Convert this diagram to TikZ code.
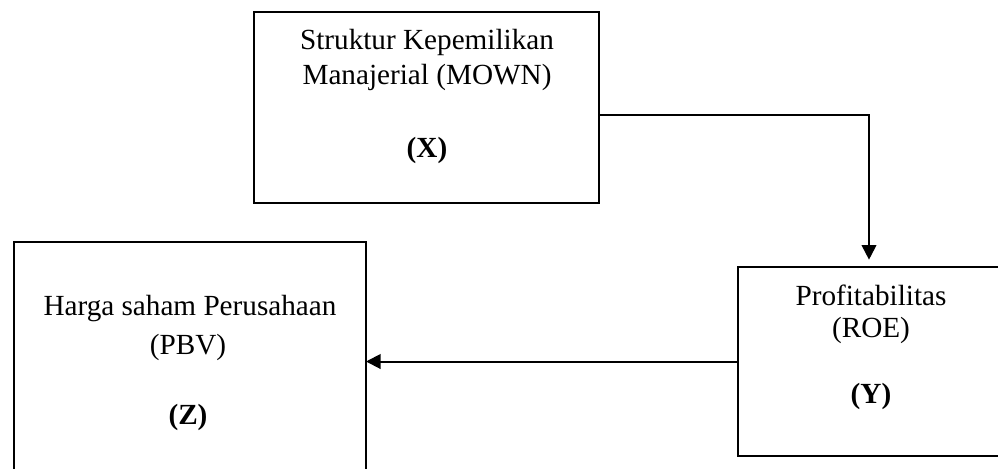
\documentclass[tikz,border=0pt]{standalone}
\usepackage{fontspec}
\setmainfont{Liberation Serif}
\usetikzlibrary{arrows.meta,calc}
\begin{document}
\begin{tikzpicture}[x=0.75pt,y=-0.75pt,
  box/.style={draw,line width=1.3pt,inner sep=0pt,outer sep=0pt},
  txt/.style={font=\fontsize{21.9}{25}\selectfont,anchor=base,inner sep=0pt},
  conn/.style={line width=1.5pt,-{Triangle[length=11pt,width=11pt]}}]
\useasboundingbox (0,0) rectangle (998,468);
\clip (0,0) rectangle (998,468);
% boxes
\node[box,minimum width=258.75pt,minimum height=143.25pt] (mown) at (426.5,107.5) {};
\node[box,minimum width=264pt,minimum height=179.25pt] (pbv) at (190,361.5) {};
\node[box,minimum width=225pt,minimum height=141.75pt] (roe) at (888,361.5) {};
% texts
\node[txt] (mown1) at (427,49) {Struktur Kepemilikan};
\node[txt] (mown2) at (427,84) {Manajerial (MOWN)};
\node[txt] (mownx) at (427,157) {\textbf{(X)}};
\node[txt] (pbv1) at (190,315) {Harga saham Perusahaan};
\node[txt] (pbv2) at (188,354) {(PBV)};
\node[txt] (pbvz) at (188,424) {\textbf{(Z)}};
\node[txt] (roe1) at (871,305) {Profitabilitas};
\node[txt] (roe2) at (871,337) {(ROE)};
\node[txt] (roey) at (871,403) {\textbf{(Y)}};
% connectors
\draw[conn,shorten >=5.5pt] ($(mown.east)+(0,7.5)$) -| ([xshift=98.25pt]roe.north west);
\draw[conn] (roe.west) -- (pbv.east);
\end{tikzpicture}
\end{document}
